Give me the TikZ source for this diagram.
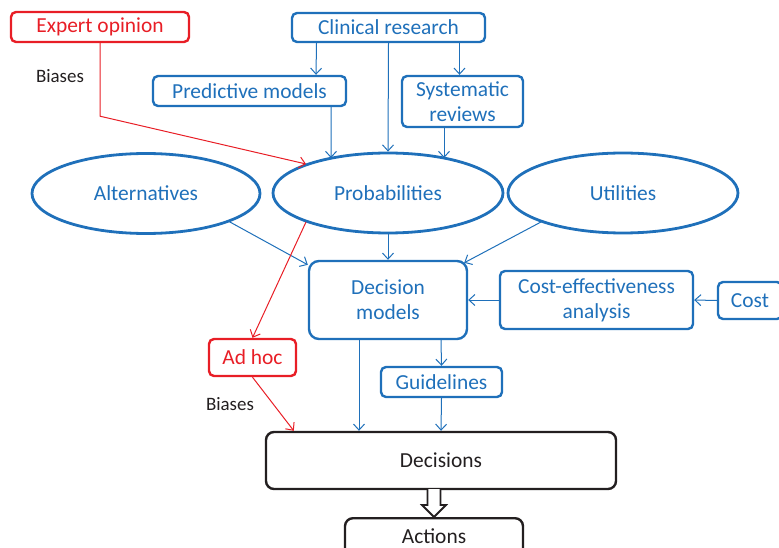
\documentclass[tikz,border=0pt]{standalone}
\usepackage{fontspec}
\setmainfont{Carlito}
\usepackage{tikz}
\usetikzlibrary{calc,shapes.geometric,arrows.meta}
\definecolor{cblue}{RGB}{31,112,186}
\definecolor{cred}{RGB}{232,30,38}
\definecolor{cblack}{RGB}{35,31,32}

\begin{document}
\begin{tikzpicture}[x=1bp,y=-1bp,
    box/.style={draw=cblue,text=cblue,line width=2.4bp,rectangle,rounded corners=5bp,align=center,inner sep=0pt,font=\fontsize{21.5}{25}\selectfont},
    redbox/.style={box,draw=cred,text=cred},
    blackbox/.style={box,draw=cblack,text=cblack,rounded corners=8bp},
    oval/.style={draw=cblue,text=cblue,line width=2.8bp,ellipse,inner sep=0pt,font=\fontsize{21.5}{25}\selectfont},
    arr/.style={draw=cblue,line width=1bp,-{Straight Barb[length=6bp,width=11bp]}},
    redarr/.style={arr,draw=cred},
    note/.style={text=cblack,font=\fontsize{19}{22}\selectfont}]
  \useasboundingbox (0,0) rectangle (779,548);
  % sources
  \node[redbox,minimum width=178bp,minimum height=30bp] (expert) at (100,27) {Expert opinion};
  \node[box,minimum width=193bp,minimum height=29bp] (clin) at (388.5,27.5) {Clinical research};
  \node[box,minimum width=193bp,minimum height=30bp] (pred) at (249.5,91) {Predictive models};
  \node[box,minimum width=121bp,minimum height=51bp] (syst) at (462.5,101.5) {Systematic\\reviews};
  \node[note] (bias1) at (60,76) {Biases};
  % inputs
  \node[oval,minimum width=228bp,minimum height=80bp] (alt) at (146,193.5) {Alternatives};
  \node[oval,minimum width=230bp,minimum height=80bp] (prob) at (388,193) {Probabilities};
  \node[oval,minimum width=230bp,minimum height=80bp] (util) at (623,193) {Utilities};
  % models
  \node[box,rounded corners=10bp,minimum width=158bp,minimum height=78bp] (dm) at (388,300) {Decision\\models};
  \node[box,minimum width=193bp,minimum height=58bp] (cea) at (596.5,300) {Cost-effectiveness\\analysis};
  \node[box,minimum width=64bp,minimum height=37bp] (cost) at (750,300.5) {Cost};
  \node[redbox,minimum width=87bp,minimum height=37bp] (adhoc) at (252.5,357.5) {Ad hoc};
  \node[box,minimum width=121bp,minimum height=30bp] (guide) at (441.5,382) {Guidelines};
  \node[note] (bias2) at (230,404) {Biases};
  % outcome
  \node[blackbox,minimum width=350bp,minimum height=57bp] (dec) at (441,460.5) {Decisions};
  \node[blackbox,minimum width=178bp,minimum height=46bp,text height=14bp,text depth=9bp,anchor=north] (act) at (434,517) {Actions};

  \draw[arr] ($(clin.south)+(-72,0)$) -- ($(pred.north)+(66.5,0)$);
  \draw[arr] (clin.south) -- (prob.north);
  \draw[arr] ($(clin.south)+(71,0)$) -- ($(syst.north)+(-3,0)$);
  \draw[arr] ($(pred.south)+(81.5,0)$) -- ($(prob.center)+(-57,-35)$);
  \draw[arr] ($(syst.south)+(-18.5,0)$) -- ($(prob.center)+(56,-35)$);
  \draw[redarr] (expert.south) -- ++(0,73) -- ($(prob.center)+(-82,-29)$);
  \draw[arr] ($(alt.center)+(83,28)$) -- ($(dm.north west)+(0,5)$);
  \draw[arr] (prob.south) -- (dm.north);
  \draw[arr] ($(util.center)+(-82,29)$) -- ($(dm.north east)+(-4,3)$);
  \draw[redarr] ($(prob.center)+(-82,29)$) -- (adhoc.north);
  \draw[redarr] (adhoc.south) -- ($(dec.north west)+(29,0)$);
  \draw[arr] ($(dm.south)+(-29,0)$) -- ($(dec.north)+(-82,0)$);
  \draw[arr] ($(dm.south)+(53,0)$) -- (guide.north);
  \draw[arr] (guide.south) -- (dec.north);
  \draw[arr] (cea.west) -- (dm.east);
  \draw[arr] (cost.west) -- (cea.east);
  % hollow arrow
  \draw[draw=cblack,fill=white,line width=1.8bp,line join=miter]
    ($(act.north)+(-6.5,-28)$) -- ($(act.north)+(-6.5,-12)$) -- ($(act.north)+(-12,-12)$)
    -- (act.north) -- ($(act.north)+(12,-12)$) -- ($(act.north)+(6.5,-12)$)
    -- ($(act.north)+(6.5,-28)$);
\end{tikzpicture}
\end{document}
